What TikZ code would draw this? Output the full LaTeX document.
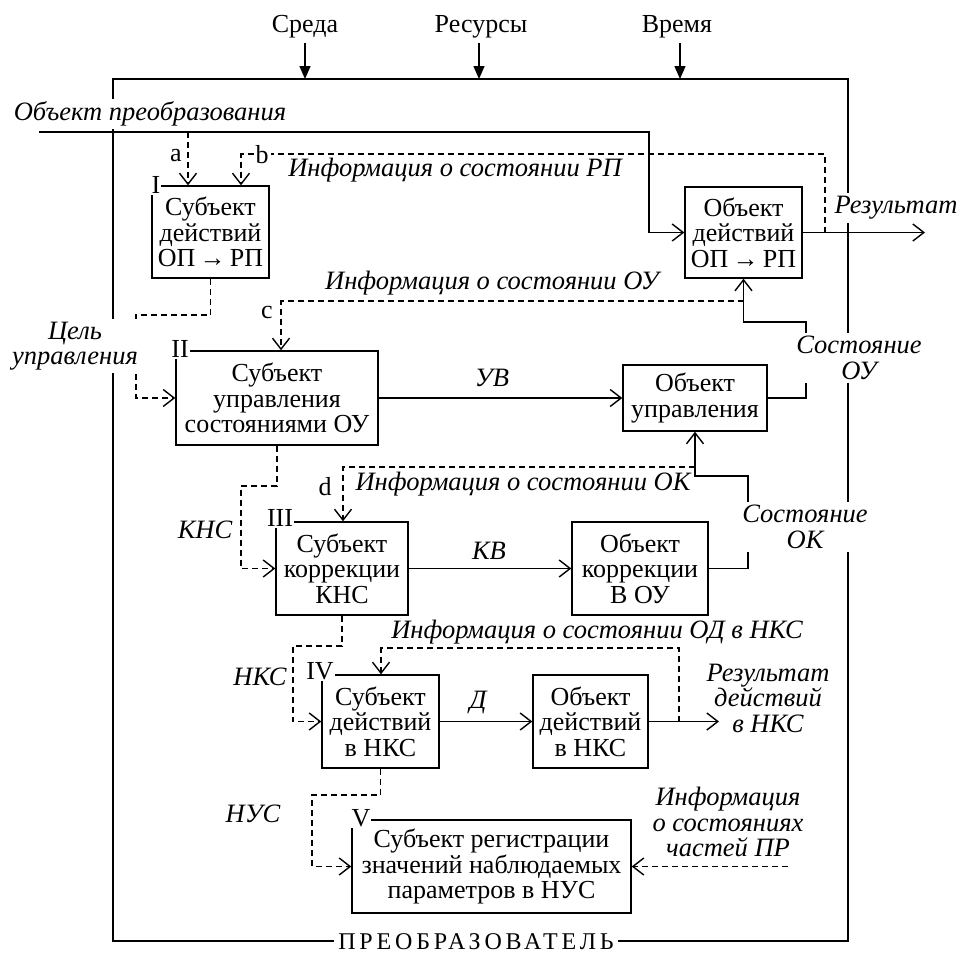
\documentclass[tikz,border=0pt]{standalone}
\usepackage{fontspec}
\setmainfont{Liberation Serif}
\usetikzlibrary{arrows.meta}
\begin{document}
\begin{tikzpicture}[x=1pt,y=-1pt,
  every node/.style={font=\fontsize{26}{25.5}\selectfont, inner sep=0pt},
  ln/.style={line width=1.4pt},
  arr/.style={ln, -{Straight Barb[length=11pt,width=17pt,line width=1.4pt]}},
  dsh/.style={ln, dash pattern=on 6pt off 4pt},
  tri/.style={ln, -{Triangle[length=13pt,width=11pt]}},
  box/.style={draw, line width=1.4pt, align=center, fill=white},
  lab/.style={font=\fontsize{26.5}{25.5}\selectfont\itshape, align=center},
  wlab/.style={lab, fill=white, inner sep=3pt},
  num/.style={fill=white, inner sep=1pt},
  let/.style={fill=white, inner sep=2pt}
]
\useasboundingbox (0,0) rectangle (962,956);

% frame
\coordinate (FTL) at (113,79);
\coordinate (FBR) at (848,941);
\draw[ln] (FTL) rectangle (FBR);

% top inputs
\node (sreda) at (305,27) {Среда};
\node (res) at (481,27) {Ресурсы};
\node (vrem) at (677,27) {Время};
\draw[tri] (305,43) -- (305,79);
\draw[tri] (479,43) -- (479,79);
\draw[tri] (680,43) -- (680,79);

% boxes
\node[box, minimum width=117pt, minimum height=92pt] (b1) at (210.5,232) {Субъект\\действий\\ОП\,→\,РП};
\node[box, minimum width=117pt, minimum height=91pt] (bOD) at (743.5,232.5) {Объект\\действий\\ОП\,→\,РП};
\node[box, minimum width=202pt, minimum height=94pt] (b2) at (277,398) {Субъект\\управления\\состояниями ОУ};
\node[box, minimum width=144pt, minimum height=66pt] (bOU) at (695,398) {Объект\\управления};
\node[box, minimum width=132pt, minimum height=93pt] (b3) at (342,568.5) {Субъект\\коррекции\\КНС};
\node[box, minimum width=136pt, minimum height=93pt] (bOK) at (640,568.5) {Объект\\коррекции\\В ОУ};
\node[box, minimum width=117pt, minimum height=93pt] (b4) at (380.5,721.5) {Субъект\\действий\\в НКС};
\node[box, minimum width=115pt, minimum height=93pt] (bOD2) at (590.5,721.5) {Объект\\действий\\в НКС};
\node[box, minimum width=279pt, minimum height=93pt] (b5) at (491.5,866.5) {Субъект регистрации\\значений наблюдаемых\\параметров в НУС};

% numerals
\node[num] (n1) at (156,185) {I};
\node[num] (n2) at (180,349) {II};
\node[num] (n3) at (280,518) {III};
\node[num] (n4) at (320,671) {IV};
\node[num] (n5) at (361,818) {V};

% object of transformation
\coordinate (opStart) at (39,132);
\coordinate (opBend) at (649,132);
\draw[arr] (opStart) -- (opBend) |- (bOD.west);
\node[wlab] (opLab) at (150,114) {Объект преобразования};

% result
\coordinate (resEnd) at (925,232.5);
\draw[arr] (bOD.east) -- (resEnd);
\node[wlab] (resLab) at (896,208) {Результат};

% a
\coordinate (aTap) at (188,132);
\draw[dsh,arr] (aTap) -- (aTap |- b1.north);
\node (aLab) at (176,156) {a};

% b
\coordinate (bTap) at (825,232.5);
\coordinate (bCorner) at (241,154);
\draw[dsh,arr] (bTap) |- (bCorner) -- (bCorner |- b1.north);
\node[let] (bLab) at (262,155) {b};
\node[lab] (infRP) at (455,170) {Информация о состоянии РП};

% goal of control
\coordinate (g1) at (136,315);
\draw[dsh,arr] (b1.south) |- (g1) |- (b2.west);
\node[wlab] (goalLab) at (75,346) {Цель\\управления};

% c
\coordinate (cTap) at (743.5,301);
\coordinate (cCorner) at (281,301);
\draw[dsh,arr] (cTap) -- (cCorner) -- (cCorner |- b2.north);
\node (cLab) at (267,312) {c};
\node[lab] (infOU) at (492,283) {Информация о состоянии ОУ};

% state OU
\coordinate (sOU) at (806,322);
\draw[arr] (bOU.east) -| (sOU) -| (bOD.south);
\node[wlab] (sOULab) at (859,358) {Состояние\\ОУ};

% UV
\draw[arr] (b2.east) -- (bOU.west);
\node[lab] (uvLab) at (492,378) {УВ};

% d
\coordinate (dTap) at (695,467);
\coordinate (dCorner) at (343,467);
\draw[dsh,arr] (dTap) -- (dCorner) -- (dCorner |- b3.north);
\node (dLab) at (325,487) {d};
\node[lab] (infOK) at (523,484) {Информация о состоянии ОК};

% state OK
\coordinate (sOK) at (748,476);
\draw[arr] (bOK.east) -| (sOK) -| (bOU.south);
\node[wlab] (sOKLab) at (805,527) {Состояние\\ОК};

% KNS
\coordinate (k1) at (241,486);
\draw[dsh,arr] (b2.south) |- (k1) |- (b3.west);
\node[lab] (knsLab) at (205,530) {КНС};

% KV
\draw[arr] (b3.east) -- (bOK.west);
\node[lab] (kvLab) at (489,551) {КВ};

% NKS
\coordinate (nk1) at (293,646);
\draw[dsh,arr] (b3.south) |- (nk1) |- (b4.west);
\node[lab] (nksLab) at (260,677) {НКС};

% info OD in NKS
\coordinate (iTap) at (679,721.5);
\coordinate (iCorner) at (381,648);
\draw[dsh,arr] (iTap) |- (iCorner) -- (iCorner |- b4.north);
\node[lab] (infOD) at (597,632) {Информация о состоянии ОД в НКС};

% D
\draw[arr] (b4.east) -- (bOD2.west);
\node[lab] (dActLab) at (478,703) {Д};

% result NKS
\coordinate (rnEnd) at (719,721.5);
\draw[arr] (bOD2.east) -- (rnEnd);
\node[lab] (rnLab) at (768,698) {Результат\\действий\\в НКС};

% NUS
\coordinate (u1) at (312,795);
\draw[dsh,arr] (b4.south) |- (u1) |- (b5.west);
\node[lab] (nusLab) at (253,814) {НУС};

% info parts PR
\coordinate (pStart) at (788,866.5);
\draw[dsh,arr] (pStart) -- (b5.east);
\node[lab] (prLab) at (728,822) {Информация\\о состояниях\\частей ПР};

% transformer
\node[fill=white, inner xsep=4pt, inner ysep=0.5pt, anchor=base, font=\fontsize{24}{24}\selectfont\addfontfeature{LetterSpace=16}] (trLab) at (476,949) {ПРЕОБРАЗОВАТЕЛЬ};
\end{tikzpicture}
\end{document}
